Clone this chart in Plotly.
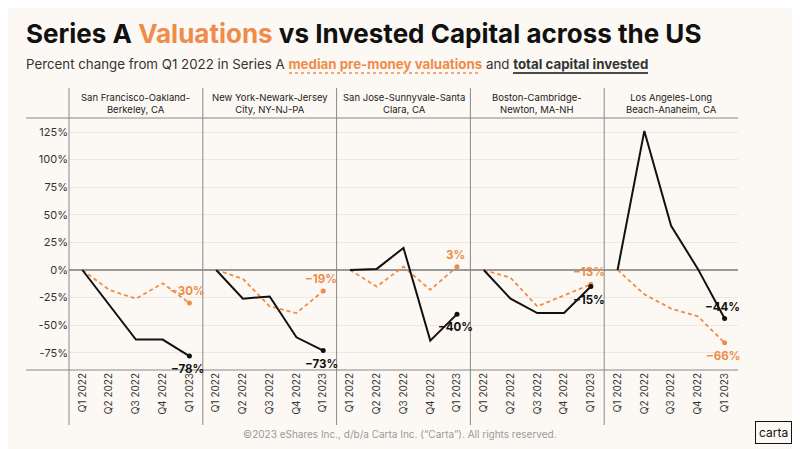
import plotly.graph_objects as go
from plotly.subplots import make_subplots

quarters = ["Q1 2022", "Q2 2022", "Q3 2022", "Q4 2022", "Q1 2023"]
regions = ["San Francisco-Oakland-<br>Berkeley, CA", "New York-Newark-Jersey<br>City, NY-NJ-PA",
           "San Jose-Sunnyvale-Santa<br>Clara, CA", "Boston-Cambridge-<br>Newton, MA-NH",
           "Los Angeles-Long<br>Beach-Anaheim, CA"]
capital = [[0, -31, -63, -63, -78], [0, -26, -24, -61, -73], [0, 1, 20, -64, -40],
           [0, -26, -39, -39, -15], [0, 126, 40, 1, -44]]
valuation = [[0, -18, -26, -12, -30], [0, -8, -33, -39, -19], [0, -15, 3, -18, 3],
             [0, -7, -33, -23, -13], [0, -22, -35, -42, -66]]

BG = "#fcf9f4"; OR = "#ef8c4a"; FONT = "Inter"
OFF = 8          # page body margin
H = 252          # plot height px
W = 669          # plot width px
L = 69 - OFF
def py(px):  # reference pixel y -> paper coord
    return (370 - px) / H
def px_(x):  # reference pixel x -> paper coord
    return (x - 69) / W

fig = make_subplots(rows=1, cols=5, shared_yaxes=True, horizontal_spacing=0)
for i in range(5):
    c = i + 1
    fig.add_trace(go.Scatter(x=quarters, y=valuation[i], mode="lines",
                             line=dict(color=OR, width=1.8, dash="4px,3px")), row=1, col=c)
    fig.add_trace(go.Scatter(x=quarters, y=capital[i], mode="lines",
                             line=dict(color="#111", width=2)), row=1, col=c)
    fig.add_trace(go.Scatter(x=[quarters[-1]], y=[valuation[i][-1]], mode="markers",
                             marker=dict(color=OR, size=5)), row=1, col=c)
    fig.add_trace(go.Scatter(x=[quarters[-1]], y=[capital[i][-1]], mode="markers",
                             marker=dict(color="#111", size=5)), row=1, col=c)
    vlow = valuation[i][-1] < capital[i][-1]
    xr = "x" if c == 1 else f"x{c}"
    vt = f"{'−' if valuation[i][-1] < 0 else ''}{abs(valuation[i][-1])}%"
    fig.add_annotation(x=quarters[-1], y=valuation[i][-1], xref=xr, yref="y", text=f"<b>{vt}</b>",
                       showarrow=False, yshift=-13 if vlow else 12, xshift=-2,
                       font=dict(color=OR, size=11.5, family=FONT))
    fig.add_annotation(x=quarters[-1], y=capital[i][-1], xref=xr, yref="y",
                       text=f"<b>−{abs(capital[i][-1])}%</b>",
                       showarrow=False, yshift=12 if vlow else -13, xshift=-2,
                       font=dict(color="#111", size=11.5, family=FONT))
    dom = fig.layout[f"xaxis{'' if c == 1 else c}"].domain
    fig.add_annotation(x=(dom[0] + dom[1]) / 2, y=py(103), xref="paper", yref="paper",
                       xanchor="center", yanchor="middle", text=regions[i], showarrow=False,
                       font=dict(size=9.5, color="#222", family=FONT))
    fig.add_shape(type="line", xref="paper", yref="paper", x0=dom[0], x1=dom[0],
                  y0=py(425), y1=py(88), line=dict(color="#888", width=1))
    fig.update_xaxes(row=1, col=c, tickangle=-90, tickfont=dict(size=10, color="#333", family=FONT),
                     showgrid=False, range=[-0.5, 4.5], ticks="", showline=False, automargin=False)
fig.add_shape(type="line", xref="paper", yref="paper", x0=px_(26), x1=1, y0=1, y1=1,
              line=dict(color="#888", width=1))
fig.add_shape(type="line", xref="paper", yref="paper", x0=px_(26), x1=1, y0=0, y1=0,
              line=dict(color="#888", width=1))
# subtitle underlines
fig.add_shape(type="line", xref="paper", yref="paper", x0=px_(289), x1=px_(481), y0=py(73), y1=py(73),
              line=dict(color=OR, width=1.5, dash="dot"))
fig.add_shape(type="line", xref="paper", yref="paper", x0=px_(513), x1=px_(648), y0=py(73), y1=py(73),
              line=dict(color="#111", width=1.5))
fig.update_yaxes(range=[-90.6, 137.7], tickvals=[-75, -50, -25, 0, 25, 50, 75, 100, 125],
                 ticktext=["-75%", "-50%", "-25%", "0%", "25%", "50%", "75%", "100%", "125%"],
                 gridcolor="#ece8e2", zeroline=True, zerolinecolor="#999", zerolinewidth=2,
                 tickfont=dict(size=11, color="#333", family=FONT), ticks="", automargin=False)
fig.add_annotation(x=px_(24), y=py(33), xref="paper", yref="paper", xanchor="left", yanchor="middle",
                   text="<b>Series A <span style='color:#ef8c4a'>Valuations</span> vs Invested Capital across the US</b>",
                   showarrow=False, font=dict(size=26, color="#111", family=FONT))
fig.add_annotation(x=px_(24), y=py(64), xref="paper", yref="paper", xanchor="left", yanchor="middle",
                   text="Percent change from Q1 2022 in Series A <span style='color:#ef8c4a'><b>median pre-money valuations</b></span> and <b>total capital invested</b>",
                   showarrow=False, font=dict(size=13.3, color="#333", family=FONT))
fig.add_annotation(x=px_(400), y=py(434), xref="paper", yref="paper", yanchor="middle", xanchor="center",
                   showarrow=False, text="©2023 eShares Inc., d/b/a Carta Inc. (“Carta”). All rights reserved.",
                   font=dict(size=10, color="#999", family=FONT))
fig.add_annotation(x=px_(773), y=py(432), xref="paper", yref="paper", yanchor="middle", xanchor="center",
                   showarrow=False, text="carta", borderpad=3, bordercolor="#111", borderwidth=1,
                   font=dict(size=12, color="#111", family=FONT))
fig.update_layout(width=800 - OFF, height=449 - OFF, paper_bgcolor=BG, plot_bgcolor=BG, showlegend=False,
                  margin=dict(l=L, r=800 - OFF - L - W, t=118 - OFF, b=449 - 370, autoexpand=False))
fig.write_html("out.html")
